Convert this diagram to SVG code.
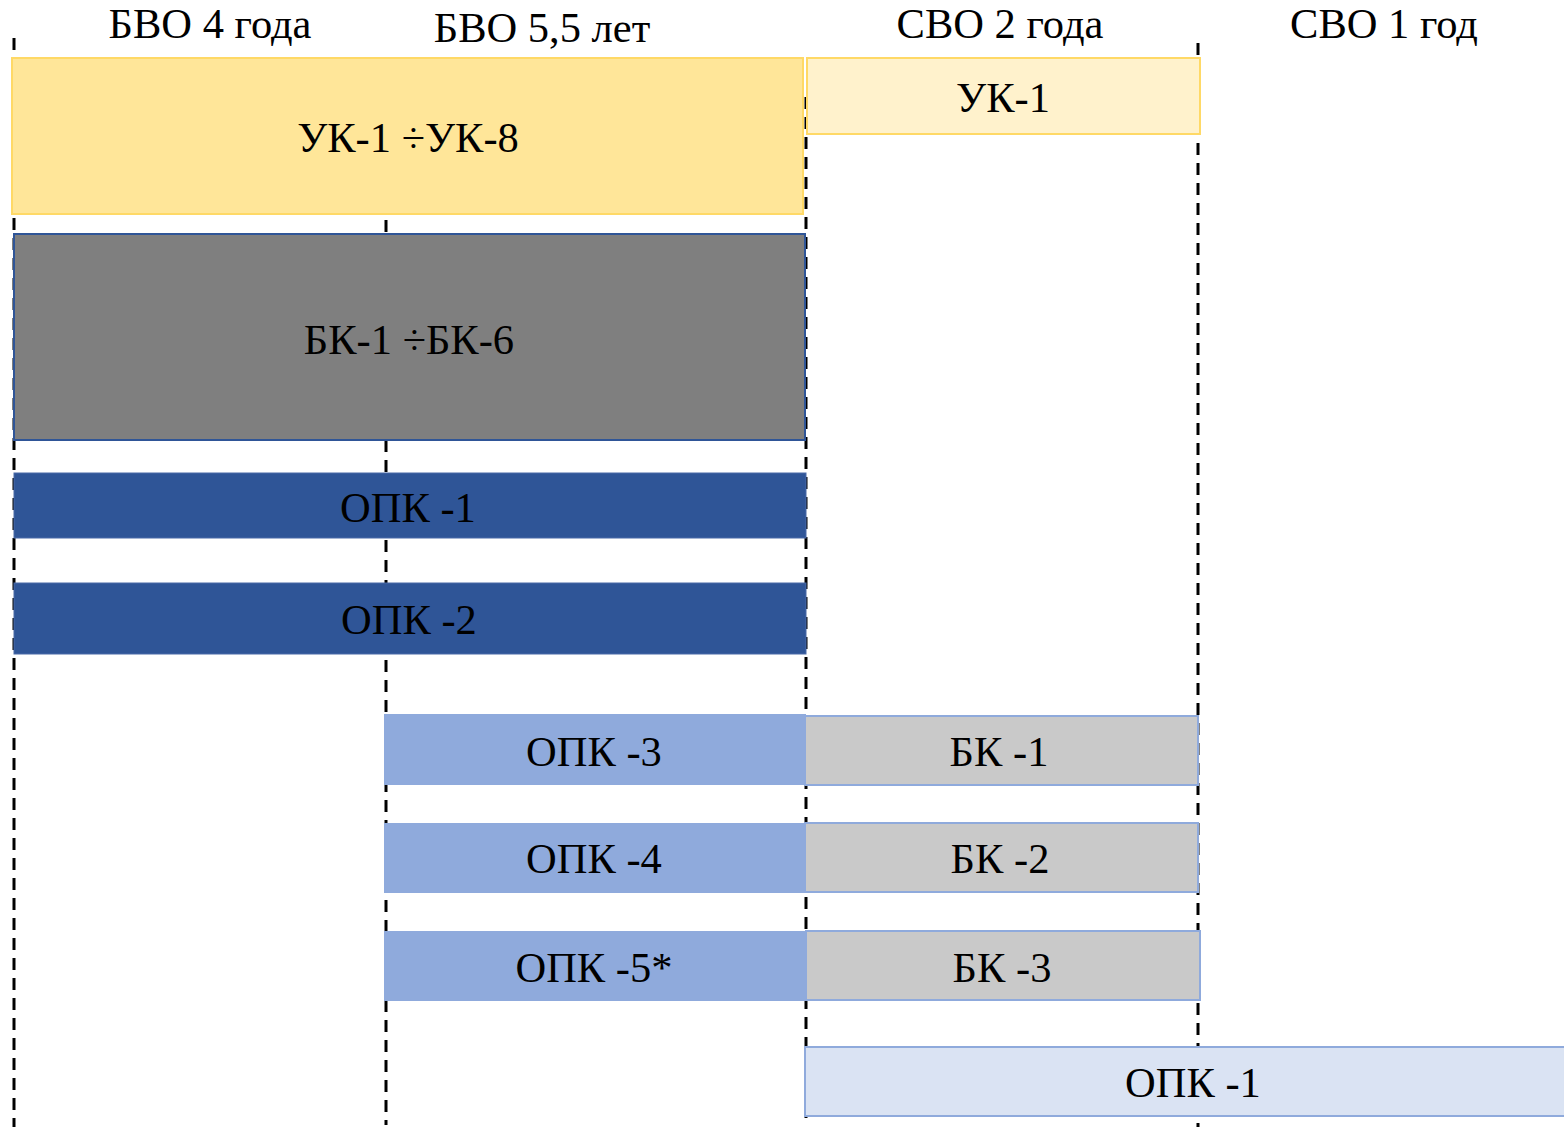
<svg xmlns="http://www.w3.org/2000/svg" width="1564" height="1127" viewBox="0 0 1564 1127">
<style>
text{font-family:"Liberation Serif","Times New Roman",serif;font-size:42.5px;fill:#000;text-anchor:middle}
.dash{stroke:#000;stroke-width:3;stroke-dasharray:12 8;fill:none}
</style>
<rect width="1564" height="1127" fill="#fff"/>
<g id="connectors">
<line class="dash" x1="14" y1="38" x2="14" y2="1127"/>
<line class="dash" x1="386" y1="60" x2="386" y2="1125"/>
<line class="dash" x1="806" y1="97" x2="806" y2="1118"/>
<line class="dash" x1="1198" y1="43" x2="1198" y2="1127"/>
</g>
<g id="headers">
<text x="210" y="38">БВО 4 года</text>
<text x="542" y="42">БВО 5,5 лет</text>
<text x="1000" y="38">СВО 2 года</text>
<text x="1384" y="38">СВО 1 год</text>
</g>
<g id="uk18"><rect x="12" y="58" width="791" height="156" fill="#FFE699" stroke="#FFD966" stroke-width="2"/><text x="408" y="152">УК-1 ÷УК-8</text></g>
<g id="uk1"><rect x="807" y="58" width="393" height="76" fill="#FFF2CC" stroke="#FFD966" stroke-width="2"/><text x="1003" y="112">УК-1</text></g>
<g id="bk16"><rect x="14" y="234" width="791" height="206" fill="#7F7F7F" stroke="#2F5597" stroke-width="2"/><text x="409" y="354">БК-1 ÷БК-6</text></g>
<g id="opk1"><rect x="14" y="473" width="792" height="65" fill="#2F5597" stroke="#4a6aa8" stroke-width="1"/><text x="408" y="522">ОПК -1</text></g>
<g id="opk2"><rect x="14" y="583" width="792" height="71" fill="#2F5597" stroke="#4a6aa8" stroke-width="1"/><text x="409" y="634">ОПК -2</text></g>
<g id="opk3"><rect x="384" y="714" width="422" height="71" fill="#8FAADC"/><text x="594" y="766">ОПК -3</text></g>
<g id="bk1"><rect x="805" y="716" width="393" height="69" fill="#C9C9C9" stroke="#8FAADC" stroke-width="2"/><text x="999" y="766">БК -1</text></g>
<g id="opk4"><rect x="384" y="823" width="422" height="70" fill="#8FAADC"/><text x="594" y="873">ОПК -4</text></g>
<g id="bk2"><rect x="805" y="823" width="393" height="69" fill="#C9C9C9" stroke="#8FAADC" stroke-width="2"/><text x="1000" y="873">БК -2</text></g>
<g id="opk5"><rect x="384" y="931" width="423" height="70" fill="#8FAADC"/><text x="594" y="982">ОПК -5*</text></g>
<g id="bk3"><rect x="806" y="931" width="394" height="69" fill="#C9C9C9" stroke="#8FAADC" stroke-width="2"/><text x="1002" y="982">БК -3</text></g>
<g id="opk1b"><rect x="805" y="1047" width="765" height="69" fill="#DAE3F3" stroke="#8FAADC" stroke-width="2"/><text x="1193" y="1097">ОПК -1</text></g>
</svg>
